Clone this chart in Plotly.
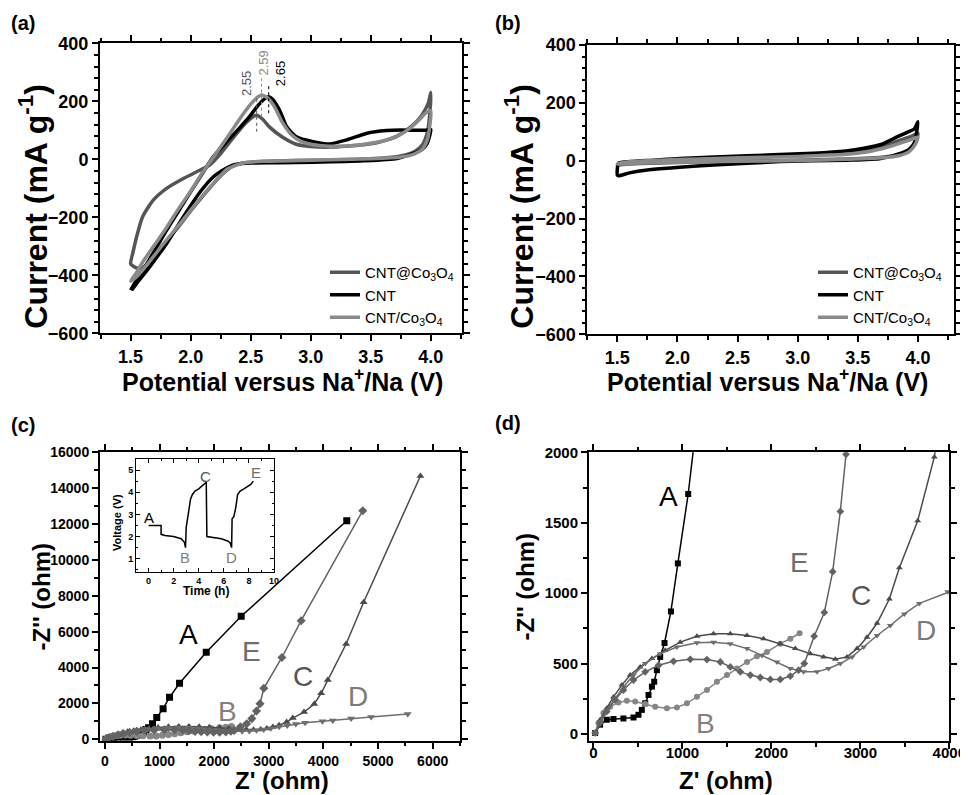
import plotly.graph_objects as go

# ---------------- (a) CV of three electrodes ----------------
a_cc_v = [1.50, 1.52, 1.55, 1.60, 1.69, 1.80, 1.94, 2.08, 2.16, 2.25, 2.35, 2.45, 2.52, 2.55, 2.60, 2.66, 2.76, 2.88, 3.00, 3.16, 3.30, 3.44, 3.55, 3.63, 3.72, 3.80, 3.87, 3.93, 3.98, 4.00,
          3.99, 3.97, 3.93, 3.87, 3.78, 3.65, 3.40, 3.00, 2.70, 2.50, 2.42, 2.36, 2.30, 2.22, 2.10, 2.00, 1.90, 1.80, 1.70, 1.64, 1.60, 1.56, 1.52, 1.50]
a_cc_i = [-360, -320, -267, -198, -140, -100, -66, -37, -19, 20, 72, 122, 147, 152, 138, 110, 78, 52, 44, 42, 45, 50, 57, 66, 80, 101, 125, 155, 195, 230,
          150, 90, 50, 28, 14, 6, 0, -3, -6, -10, -14, -22, -38, -70, -128, -178, -232, -280, -330, -360, -374, -376, -368, -360]

a_cnt_v = [1.50, 1.53, 1.56, 1.605, 1.70, 1.80, 1.94, 2.08, 2.19, 2.30, 2.40, 2.49, 2.56, 2.62, 2.65, 2.68, 2.74, 2.80, 2.88, 3.02, 3.16, 3.30, 3.47, 3.63, 3.75, 3.86, 3.95, 4.00,
           3.99, 3.97, 3.93, 3.86, 3.72, 3.44, 3.02, 2.74, 2.50, 2.41, 2.35, 2.30, 2.19, 2.08, 1.94, 1.80, 1.66, 1.55, 1.51]
a_cnt_i = [-451, -430, -410, -382, -315, -244, -152, -60, 9, 60, 105, 147, 185, 210, 216, 208, 170, 112, 78, 61, 53, 67, 90, 99, 101, 100, 100, 103,
           80, 55, 35, 21, 3, -5, -10, -12, -13, -15, -20, -30, -60, -112, -198, -290, -370, -428, -451]

a_cs_v = [1.50, 1.55, 1.60, 1.70, 1.80, 1.90, 2.00, 2.10, 2.22, 2.32, 2.41, 2.50, 2.56, 2.59, 2.64, 2.70, 2.76, 2.84, 2.92, 3.00, 3.15, 3.30, 3.45, 3.60, 3.72, 3.82, 3.90, 3.96, 4.00,
          3.99, 3.97, 3.93, 3.86, 3.75, 3.50, 3.00, 2.60, 2.45, 2.38, 2.30, 2.20, 2.10, 2.00, 1.90, 1.80, 1.70, 1.60, 1.55, 1.50]
a_cs_i = [-420, -390, -355, -295, -235, -170, -110, -45, 25, 85, 140, 190, 215, 222, 212, 180, 130, 85, 62, 52, 45, 46, 52, 63, 80, 105, 135, 160, 168,
          110, 65, 35, 18, 8, 2, -3, -7, -12, -20, -35, -78, -125, -175, -228, -278, -330, -382, -405, -420]

peak_v = [2.55, 2.59, 2.65]
peak_lo = [95, 147, 159]
peak_hi = [216, 279, 262]
peak_txt = ["2.55", "2.59", "2.65"]
peak_txt_v = [2.467, 2.605, 2.744]
peak_txt_i = [262, 331, 297]

# ---------------- (b) CV of bare substrates ----------------
b_cc_v = [1.50, 1.55, 1.65, 1.80, 2.00, 2.50, 3.00, 3.40, 3.60, 3.75, 3.86, 3.95, 4.00,
          3.98, 3.93, 3.85, 3.70, 3.40, 3.00, 2.50, 2.00, 1.70, 1.55, 1.50]
b_cc_i = [-15, -8, -3, 0, 4, 12, 18, 26, 38, 55, 72, 85, 95,
          70, 40, 22, 12, 6, 2, -2, -6, -10, -13, -15]
b_cnt_v = [1.50, 1.51, 1.61, 1.80, 2.02, 2.58, 3.13, 3.40, 3.55, 3.70, 3.83, 3.92, 3.97, 4.00,
           3.99, 3.97, 3.93, 3.86, 3.69, 3.41, 2.86, 2.30, 1.75, 1.60, 1.51, 1.50]
b_cnt_i = [-50, -9, -3, 2, 8, 17, 26, 34, 43, 57, 83, 100, 110, 135,
           100, 60, 40, 26, 8, 2, -3, -15, -32, -42, -52, -50]
b_cs_v = [1.50, 1.55, 1.65, 1.80, 2.00, 2.50, 3.00, 3.40, 3.60, 3.75, 3.86, 3.95, 4.00,
          3.98, 3.93, 3.85, 3.70, 3.40, 3.00, 2.50, 2.00, 1.70, 1.55, 1.50]
b_cs_i = [-12, -6, -2, 1, 4, 10, 15, 22, 32, 47, 62, 74, 82,
          58, 32, 18, 10, 5, 1, -2, -5, -8, -11, -12]

# ---------------- (c)/(d) Nyquist plots ----------------
A_x = [19, 75, 150, 225, 337, 450, 506, 544, 582, 619, 657, 683, 713, 750, 799, 871, 949, 1065, 1183, 1366, 1855, 2495, 4427]
A_y = [7, 66, 101, 106, 110, 117, 136, 171, 218, 277, 336, 371, 453, 547, 646, 870, 1211, 1704, 2341, 3121, 4850, 6856, 12185]

B_x = [19, 56, 112, 188, 281, 375, 469, 582, 694, 826, 938, 1051, 1163, 1276, 1388, 1501, 1613, 1726, 1838, 1950, 2100, 2213, 2317]
B_y = [7, 77, 148, 194, 223, 235, 230, 213, 194, 183, 187, 218, 265, 312, 370, 418, 465, 511, 551, 582, 641, 676, 715]

C_x = [19, 75, 150, 225, 319, 413, 525, 657, 807, 975, 1163, 1350, 1538, 1726, 1912, 2100, 2269, 2438, 2587, 2719, 2850, 2963, 3075, 3188,
       3326, 3439, 3645, 3832, 3958, 4079, 4415, 4736, 5775]
C_y = [7, 101, 183, 263, 347, 418, 476, 535, 594, 652, 694, 711, 711, 699, 676, 641, 606, 570, 547, 530, 547, 606, 687, 786,
       958, 1180, 1514, 1967, 2564, 3305, 5312, 7636, 14677]

D_x = [19, 75, 150, 244, 337, 450, 582, 750, 938, 1163, 1350, 1538, 1726, 1894, 2063, 2213, 2362, 2513, 2643, 2775, 2907, 3037, 3188, 3337,
       3495, 3664, 3982, 4171, 4507, 4873, 5543]
D_y = [7, 87, 169, 254, 333, 418, 500, 570, 617, 648, 652, 641, 606, 558, 511, 465, 441, 441, 465, 500, 547, 617, 699, 770,
       852, 927, 1009, 1050, 1160, 1240, 1410]

E_x = [19, 75, 150, 244, 337, 450, 582, 732, 900, 1088, 1276, 1426, 1538, 1651, 1763, 1875, 1988, 2100, 2213, 2306, 2370, 2481, 2595, 2689,
       2775, 2839, 2909, 3240, 3592, 4720]
E_y = [7, 77, 160, 242, 312, 383, 441, 488, 516, 530, 528, 511, 476, 441, 418, 401, 387, 387, 411, 453, 500, 694, 863, 1152,
       1580, 1986, 2843, 4560, 6611, 12742]

# inset: charge/discharge profile
t_h = [0, 1.0, 1.0, 1.3, 2.0, 2.6, 2.85, 2.95, 3.0, 3.1, 3.2, 3.35, 3.5, 3.7, 4.0, 4.3, 4.6, 4.65, 5.2, 5.8, 6.3, 6.5,
       6.62, 6.66, 6.8, 6.95, 7.1, 7.3, 7.6, 7.9, 8.15, 8.35]
volt = [2.5, 2.5, 2.1, 2.05, 2.0, 1.9, 1.75, 1.5, 2.4, 2.8, 3.1, 3.7, 3.9, 4.05, 4.15, 4.3, 4.45, 2.0, 1.95, 1.9, 1.8, 1.72,
        1.5, 2.8, 2.9, 3.3, 3.9, 4.05, 4.15, 4.25, 4.35, 4.5]
inset_lbl = ["A", "B", "C", "D", "E"]
inset_lbl_t = [0.0, 2.9, 4.5, 6.6, 8.55]
inset_lbl_v = [2.85, 1.05, 4.7, 1.05, 4.9]

c_lbl_x = [1536, 2250, 3622, 4628, 2678]
c_lbl_y = [5814, 1538, 3489, 2375, 4883]
d_lbl_x = [844, 1264, 3008, 3739, 2314]
d_lbl_y = [1685, 77, 981, 735, 1216]
lbl_names = ["A", "B", "C", "D", "E"]
lbl_colors = ["#000000", "#808080", "#555555", "#7a7a7a", "#6e6e6e"]

series_names = ["CNT@Co<sub>3</sub>O<sub>4</sub>", "CNT", "CNT/Co<sub>3</sub>O<sub>4</sub>"]
cv_colors = ["#555555", "#000000", "#8a8a8a"]

# page body has an 8 px margin; the figure is sized to fill the rest of the window
OFF = 8
W, H = 968 - OFF, 795 - OFF
FONT = "Liberation Sans, Arial, sans-serif"


def fx(px):
    return (px - OFF) / W


def fy(py):
    return 1 - (py - OFF) / H


def dx(p0, p1):
    return [fx(p0), fx(p1)]


def dy(p0, p1):
    return [fy(p1), fy(p0)]


fig = go.Figure()

# (a)
for name, col, vv, ii in zip(series_names, cv_colors, [a_cc_v, a_cnt_v, a_cs_v], [a_cc_i, a_cnt_i, a_cs_i]):
    fig.add_trace(go.Scatter(x=vv, y=ii, mode="lines", name=name, line=dict(color=col, width=3.5, shape="spline", smoothing=0.6),
                             xaxis="x", yaxis="y", legend="legend"))
for v, lo, hi, col in zip(peak_v, peak_lo, peak_hi, ["#555555", "#8a8a8a", "#000000"]):
    fig.add_trace(go.Scatter(x=[v, v], y=[lo, hi], mode="lines", line=dict(color=col, width=1, dash="dot"),
                             showlegend=False, xaxis="x", yaxis="y"))

# (b)
for name, col, vv, ii in zip(series_names, cv_colors, [b_cc_v, b_cnt_v, b_cs_v], [b_cc_i, b_cnt_i, b_cs_i]):
    fig.add_trace(go.Scatter(x=vv, y=ii, mode="lines", name=name, line=dict(color=col, width=3.5, shape="spline", smoothing=0.6),
                             xaxis="x2", yaxis="y2", legend="legend2"))

# (c) and (d)
eis = [
    (A_x, A_y, "square", "#000000"),
    (B_x, B_y, "circle", "#868686"),
    (C_x, C_y, "triangle-up", "#4a4a4a"),
    (D_x, D_y, "triangle-down", "#6e6e6e"),
    (E_x, E_y, "diamond", "#636363"),
]
for xs, ys, sym, col in eis:
    fig.add_trace(go.Scatter(x=xs, y=ys, mode="lines+markers", line=dict(color=col, width=1.5),
                             marker=dict(symbol=sym, size=7, color=col), showlegend=False, xaxis="x3", yaxis="y3"))
for xs, ys, sym, col in eis:
    fig.add_trace(go.Scatter(x=xs, y=ys, mode="lines+markers", line=dict(color=col, width=1.5),
                             marker=dict(symbol=sym, size=6, color=col), showlegend=False, xaxis="x4", yaxis="y4"))

# inset
fig.add_trace(go.Scatter(x=t_h, y=volt, mode="lines", line=dict(color="#000000", width=1.5),
                         showlegend=False, xaxis="x5", yaxis="y5"))


def axis(domain, rng, dtick, mdtick, anchor, fsize=17, tick0=None, ticks="outside", lw=2, tl=6, fmt=None, standoff=0):
    d = dict(domain=domain, range=rng, dtick=dtick, anchor=anchor, showline=True, linecolor="#000", linewidth=lw,
             mirror="ticks", ticks=ticks, ticklen=tl, tickwidth=lw, tickcolor="#000", showgrid=False, zeroline=False,
             tickfont=dict(family=FONT, size=fsize, color="#000", weight="bold"),
             minor=dict(dtick=mdtick, ticks=ticks, ticklen=tl * 0.6, tickwidth=lw, tickcolor="#000", showgrid=False),
             exponentformat="none", separatethousands=False, automargin=False)
    if standoff:
        d["ticklabelstandoff"] = standoff
    if tick0 is not None:
        d["tick0"] = tick0
    if fmt is not None:
        d["tickformat"] = fmt
    return d


fig.update_layout(
    width=W, height=H, autosize=False, margin=dict(l=0, r=0, t=0, b=0, pad=0, autoexpand=False),
    paper_bgcolor="white", plot_bgcolor="white",
    font=dict(family=FONT, color="#000"),
    xaxis=axis(dx(100, 462), [1.245, 4.26], 0.5, 0.25, "y", 18, tick0=1.5, fmt=".1f"),
    yaxis=axis(dy(43.3, 333.3), [-600, 400], 200, 40, "x", 18, fmt="d"),
    xaxis2=axis(dx(587.3, 954), [1.25, 4.3], 0.5, 0.25, "y2", 18, tick0=1.5, fmt=".1f"),
    yaxis2=axis(dy(45, 334.3), [-600, 400], 200, 40, "x2", 18, fmt="d"),
    xaxis3=axis(dx(100, 460), [-90, 6500], 1000, 500, "y3", 14, fmt="d"),
    yaxis3=axis(dy(452.3, 740.7), [-80, 16000], 2000, 1000, "x3", 14, fmt="d"),
    xaxis4=axis(dx(589, 949.3), [-50, 4000], 1000, 500, "y4", 15, fmt="d", standoff=-9),
    yaxis4=axis(dy(452.3, 741), [-50, 2000], 500, 250, "x4", 15, fmt="d"),
    xaxis5=axis(dx(136, 274), [-1, 10], 2, 1, "y5", 9, ticks="inside", lw=1, tl=4, fmt="d"),
    yaxis5=axis(dy(459, 572), [0.4, 5.5], 1, 0.5, "x5", 9, ticks="inside", lw=1, tl=4, fmt="d"),
    legend=dict(x=fx(325), y=fy(256), xanchor="left", yanchor="top", bgcolor="rgba(0,0,0,0)",
                font=dict(family=FONT, size=15, color="#000"), itemwidth=30, tracegroupgap=0),
    legend2=dict(x=fx(813), y=fy(256), xanchor="left", yanchor="top", bgcolor="rgba(0,0,0,0)",
                 font=dict(family=FONT, size=15, color="#000"), itemwidth=30, tracegroupgap=0),
)

ann = []


def paper_text(px, py, text, size, bold=True, angle=0, color="#000"):
    ann.append(dict(x=fx(px), y=fy(py), xref="paper", yref="paper", text=text, showarrow=False,
                    textangle=angle, xanchor="center", yanchor="middle",
                    font=dict(family=FONT, size=size, color=color, weight="bold" if bold else "normal")))


# panel labels
paper_text(23, 23, "(a)", 20)
paper_text(508, 23, "(b)", 20)
paper_text(23, 425, "(c)", 20)
paper_text(508, 423, "(d)", 20)
# axis titles
paper_text(282.7, 380, "Potential versus Na<sup>+</sup>/Na (V)", 25)
paper_text(33, 206.7, "Current (mA g<sup>-1</sup>)", 32, angle=-90)
paper_text(767.3, 380, "Potential versus Na<sup>+</sup>/Na (V)", 25)
paper_text(519, 206.7, "Current (mA g<sup>-1</sup>)", 32, angle=-90)
paper_text(281.7, 780, "Z' (ohm)", 24)
paper_text(41.7, 596.7, "-Z'' (ohm)", 24, angle=-90)
paper_text(725.7, 780, "Z' (ohm)", 24)
paper_text(525.7, 586.7, "-Z'' (ohm)", 24, angle=-90)
# inset axis titles
paper_text(206, 591, "Time (h)", 12)
paper_text(117, 523, "Voltage (V)", 11, angle=-90)

# peak labels in (a)
for txt, col, xx, yy in zip(peak_txt, ["#555555", "#8a8a8a", "#000000"], peak_txt_v, peak_txt_i):
    ann.append(dict(x=xx, y=yy, xref="x", yref="y", text=txt, showarrow=False, textangle=-90,
                    font=dict(family=FONT, size=13, color=col)))

# letter labels
for n, x, y, c in zip(lbl_names, c_lbl_x, c_lbl_y, lbl_colors):
    ann.append(dict(x=x, y=y, xref="x3", yref="y3", text=n, showarrow=False, font=dict(family=FONT, size=28, color=c)))
for n, x, y, c in zip(lbl_names, d_lbl_x, d_lbl_y, lbl_colors):
    ann.append(dict(x=x, y=y, xref="x4", yref="y4", text=n, showarrow=False, font=dict(family=FONT, size=28, color=c)))
for n, x, y, c in zip(inset_lbl, inset_lbl_t, inset_lbl_v, lbl_colors):
    ann.append(dict(x=x, y=y, xref="x5", yref="y5", text=n, showarrow=False, font=dict(family=FONT, size=15, color=c)))

fig.update_layout(annotations=ann)
fig.write_html("out.html")
